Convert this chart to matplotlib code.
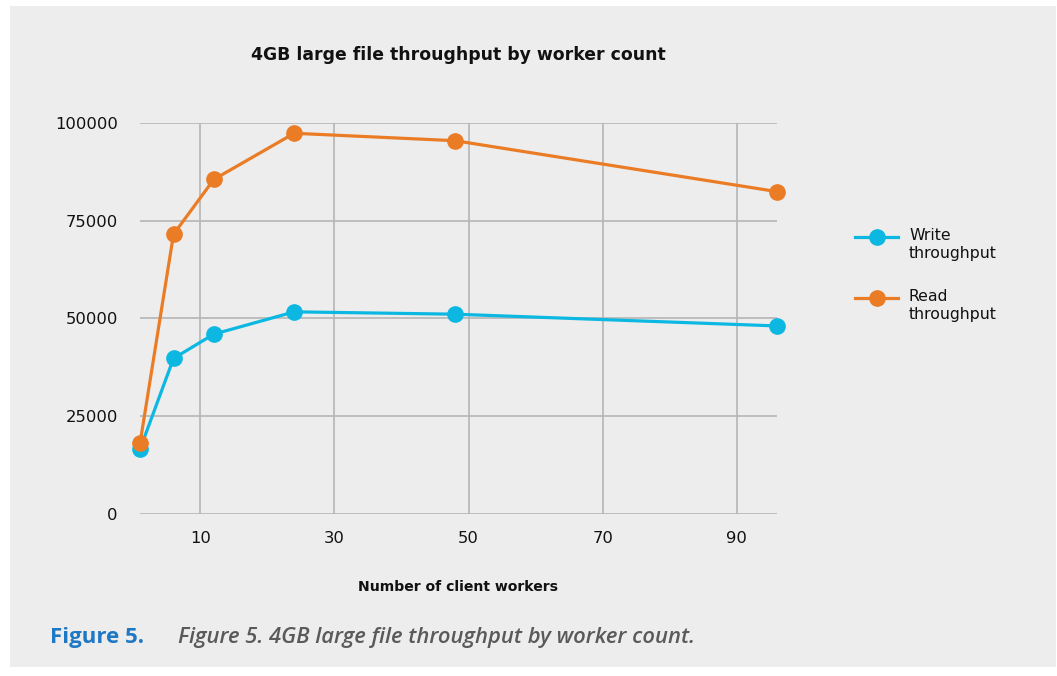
import numpy as np
import matplotlib
matplotlib.use("Agg")
from matplotlib import pyplot as plt
from matplotlib.patches import Rectangle
from matplotlib.lines import Line2D

# data
workers = [1, 6, 12, 24, 48, 96]
write_tp = [16600, 39800, 46000, 51700, 51100, 48100]
read_tp = [18100, 71500, 85500, 97300, 95400, 82400]
x_ticks = [10, 30, 50, 70, 90]
y_ticks = [0, 25000, 50000, 75000, 100000]

blue = "#0cb8e2"
orange = "#eb7c26"
grid_c = "#b5b5b5"

W, H = 1057, 676
fig = plt.figure(figsize=(W / 100, H / 100), dpi=100, facecolor="white")

# gray panel behind everything
fig.add_artist(Rectangle((10 / W, 1 - 667 / H), (1056 - 10) / W, (667 - 6) / H,
                         transform=fig.transFigure, facecolor="#ededed",
                         edgecolor="none", zorder=-10))

ax = fig.add_axes([140 / W, 1 - 514.3 / H, (777 - 140) / W, (514.3 - 122.7) / H])
ax.set_facecolor("none")
ax.set_xlim(1, 96)
ax.set_ylim(0, 100000)
for s in ax.spines.values():
    s.set_visible(False)
ax.set_xticks(x_ticks)
ax.set_yticks(y_ticks)
ax.grid(True, color=grid_c, linewidth=1.2)
ax.set_axisbelow(True)
ax.tick_params(length=0, labelsize=11.8, colors="#111111")
ax.tick_params(axis="y", pad=16)
ax.tick_params(axis="x", pad=12)

ax.plot(workers, write_tp, color=blue, lw=2.3, marker="o", ms=11, clip_on=False, zorder=3)
ax.plot(workers, read_tp, color=orange, lw=2.3, marker="o", ms=11, clip_on=False, zorder=4)

fig.text(458 / W, 1 - 55 / H, "4GB large file throughput by worker count",
         ha="center", va="center", fontsize=12.4, fontweight="bold", color="#111111")
fig.text(458 / W, 1 - 587 / H, "Number of client workers",
         ha="center", va="center", fontsize=10.1, fontweight="bold", color="#111111")

# legend drawn by hand so the handle lines up with the first text line
for yy, col, lab in [(237, blue, "Write\nthroughput"), (298, orange, "Read\nthroughput")]:
    fig.add_artist(Line2D([855 / W, 898 / W], [1 - yy / H, 1 - yy / H], transform=fig.transFigure,
                          color=col, lw=2.3, marker=None))
    fig.add_artist(Line2D([876.5 / W], [1 - yy / H], transform=fig.transFigure,
                          color=col, marker="o", ms=11, lw=0))
    fig.text(909 / W, 1 - (yy - 9) / H, lab, ha="left", va="top", fontsize=11.3,
             color="#111111", linespacing=1.25)

# caption
fig.text(50 / W, 1 - 638 / H, "Figure 5.", ha="left", va="center", fontsize=16,
         fontweight="bold", color="#1f78c4", family="Open Sans")
fig.text(178 / W, 1 - 638 / H, "Figure 5. 4GB large file throughput by worker count.",
         ha="left", va="center", fontsize=15.8, fontweight="semibold", style="italic",
         color="#5a5a5a", family="Open Sans")

fig.savefig("out.png", dpi=100, facecolor="white")
